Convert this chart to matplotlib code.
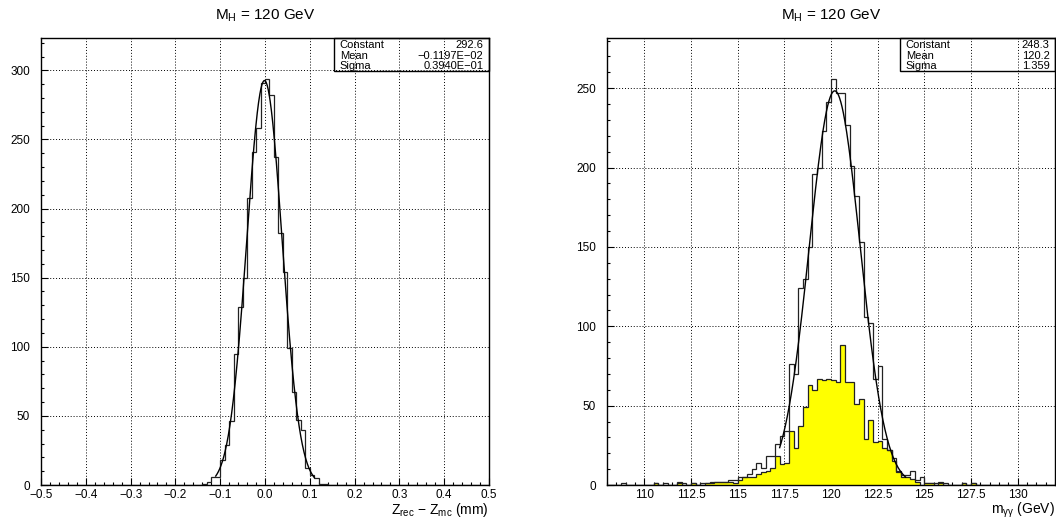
import numpy as np
import matplotlib.pyplot as plt
from matplotlib.ticker import MultipleLocator
from matplotlib.patches import Rectangle

plt.rcParams['font.family'] = ['Liberation Sans', 'DejaVu Sans']
plt.rcParams['mathtext.fontset'] = 'custom'
plt.rcParams['mathtext.rm'] = 'Liberation Sans'
plt.rcParams['mathtext.it'] = 'Liberation Sans:italic'

# vertex resolution: 100 bins of 0.01 mm on [-0.5, 0.5], non-empty bins start at -0.14
z_range = (-0.5, 0.5)
z_nbins = 100
z_first_edge = -0.14
z_counts = [1, 2, 6, 6, 18, 29, 46, 95, 129, 150, 208, 241, 258, 291,
            294, 282, 237, 182, 154, 99, 67, 47, 40, 12, 7, 5, 1, 1]
z_fit = {'Constant': 292.6, 'Mean': -0.1197e-02, 'Sigma': 0.3940e-01}
z_fit_text = ['292.6', '\u22120.1197E\u221202', '0.3940E\u221201']
z_fit_range = (-0.11, 0.11)

# diphoton mass: 96 bins of 0.25 GeV on [108, 132]
m_range = (108.0, 132.0)
m_all = [0, 0, 0, 1, 0, 0, 0, 0, 0, 0,
         1, 0, 1, 0, 0, 2, 1, 0, 1, 0,
         1, 1, 2, 2, 2, 2, 3, 3, 5, 5,
         7, 10, 14, 11, 18, 18, 26, 31, 34, 76,
         70, 124, 130, 150, 196, 200, 223, 241, 256, 247,
         247, 227, 201, 182, 153, 106, 102, 67, 75, 29,
         22, 17, 9, 6, 6, 9, 3, 5, 1, 1,
         1, 2, 1, 0, 0, 0, 1, 0, 1, 0,
         0, 0, 0, 0, 0, 0, 0, 0, 0, 0,
         0, 0, 0, 0, 0, 0]
m_sel = [0, 0, 0, 0, 0, 0, 0, 0, 0, 0,
         1, 0, 0, 0, 0, 1, 0, 0, 1, 0,
         0, 1, 1, 2, 2, 2, 2, 1, 3, 5,
         5, 5, 7, 8, 9, 11, 18, 13, 14, 34,
         23, 37, 49, 63, 60, 67, 66, 67, 66, 65,
         88, 65, 65, 51, 54, 29, 41, 27, 28, 23,
         22, 15, 8, 5, 5, 4, 2, 0, 1, 1,
         0, 1, 0, 0, 0, 0, 1, 0, 1, 0,
         0, 0, 0, 0, 0, 0, 0, 0, 0, 0,
         0, 0, 0, 0, 0, 0]
m_fit = {'Constant': 248.3, 'Mean': 120.2, 'Sigma': 1.359}
m_fit_text = ['248.3', '120.2', '1.359']
m_fit_range = (117.25, 124.0)

m_ticks = [110, 112.5, 115, 117.5, 120, 122.5, 125, 127.5, 130]
m_ticklabels = ['110', '112.5', '115', '117.5', '120', '122.5', '125', '127.5', '130']

title = r'M$_{\mathregular{H}}$ = 120 GeV'


def gauss(x, p):
    return p['Constant'] * np.exp(-0.5 * ((x - p['Mean']) / p['Sigma']) ** 2)


def style_axes(ax, xmajor, xminor, ymax):
    ax.set_ylim(0, ymax)
    ax.xaxis.set_major_locator(MultipleLocator(xmajor))
    ax.xaxis.set_minor_locator(MultipleLocator(xminor))
    ax.yaxis.set_major_locator(MultipleLocator(50))
    ax.yaxis.set_minor_locator(MultipleLocator(10))
    ax.tick_params(which='both', direction='in', top=False, right=False,
                   labelsize=8.5, width=0.8)
    ax.tick_params(which='major', length=5)
    ax.tick_params(which='minor', length=2.5)
    ax.tick_params(axis='y', pad=8)
    ax.tick_params(axis='x', pad=3)
    ax.grid(True, which='major', color='black', linestyle=(0, (1, 2)), linewidth=0.7)
    for s in ax.spines.values():
        s.set_linewidth(1.0)
    ax.set_title(title, fontsize=11, pad=13)


def stat_box(ax, names, values):
    x0, y0 = 0.655, 0.926
    ax.add_patch(Rectangle((x0, y0), 1 - x0, 1 - y0, transform=ax.transAxes,
                           fill=False, edgecolor='black', linewidth=1.0,
                           zorder=5, clip_on=False))
    for i, (n, v) in enumerate(zip(names, values)):
        y = 0.984 - i * 0.0235
        ax.text(x0 + 0.012, y, n, transform=ax.transAxes, fontsize=8,
                va='center', ha='left', zorder=6)
        ax.text(0.988, y, v, transform=ax.transAxes, fontsize=8,
                va='center', ha='right', zorder=6)


fig = plt.figure(figsize=(10.56, 5.2), dpi=100)
ax1 = fig.add_axes([41 / 1056, 35 / 520, 448 / 1056, 447 / 520])
ax2 = fig.add_axes([607 / 1056, 35 / 520, 448 / 1056, 447 / 520])

# left panel
z_edges = np.linspace(z_range[0], z_range[1], z_nbins + 1)
z_hist = np.zeros(z_nbins)
k0 = int(round((z_first_edge - z_range[0]) / 0.01))
z_hist[k0:k0 + len(z_counts)] = z_counts
ax1.stairs(z_hist, z_edges, color='#222222', linewidth=0.9, baseline=0, zorder=3)
xf = np.linspace(z_fit_range[0], z_fit_range[1], 300)
ax1.plot(xf, gauss(xf, z_fit), color='black', linewidth=1.0, zorder=4)
ax1.set_xlim(*z_range)
style_axes(ax1, 0.1, 0.02, 1.1 * max(z_counts))
ax1.set_xlabel(r'Z$_{\mathregular{rec}}$ $-$ Z$_{\mathregular{mc}}$ (mm)', loc='right',
               fontsize=10, labelpad=0)
stat_box(ax1, list(z_fit.keys()), z_fit_text)

# right panel
m_edges = np.linspace(m_range[0], m_range[1], len(m_all) + 1)
ax2.stairs(m_sel, m_edges, fill=True, color='#ffff00', zorder=2)
ax2.stairs(m_sel, m_edges, color='#222222', linewidth=0.9, baseline=0, zorder=3)
ax2.stairs(m_all, m_edges, color='#222222', linewidth=0.9, baseline=0, zorder=3)
xf = np.linspace(m_fit_range[0], m_fit_range[1], 300)
ax2.plot(xf, gauss(xf, m_fit), color='black', linewidth=1.0, zorder=4)
ax2.set_xlim(*m_range)
style_axes(ax2, 2.5, 0.5, 1.1 * max(m_all))
ax2.set_xticks(m_ticks)
ax2.set_xticklabels(m_ticklabels)
ax2.set_xlabel(r'm$_{\mathregular{γγ}}$ (GeV)', loc='right', fontsize=10, labelpad=0)
stat_box(ax2, list(m_fit.keys()), m_fit_text)

fig.savefig('out.png', dpi=100)
